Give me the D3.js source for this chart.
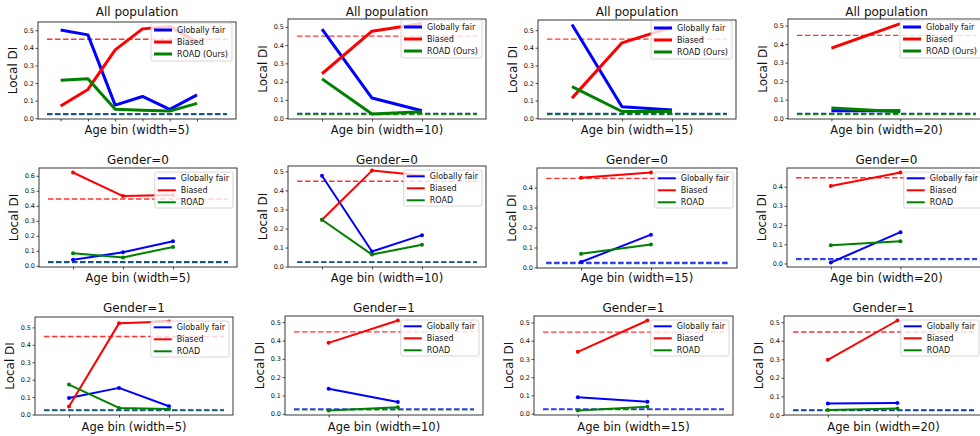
<!DOCTYPE html>
<html><head><meta charset="utf-8">
<script src="https://cdn.jsdelivr.net/npm/d3@7"></script>
<style>
body{margin:0;background:#fff}
svg{display:block}
text{font-family:"DejaVu Sans",sans-serif;fill:#111}
</style>
</head><body>
<svg id="c" width="980" height="436"></svg>
<script>
// ---------------- data ----------------
const panelTitles = [
  "All population","All population","All population","All population",
  "Gender=0","Gender=0","Gender=0","Gender=0",
  "Gender=1","Gender=1","Gender=1","Gender=1"
];
const xAxisLabels = [
  "Age bin (width=5)","Age bin (width=10)","Age bin (width=15)","Age bin (width=20)",
  "Age bin (width=5)","Age bin (width=10)","Age bin (width=15)","Age bin (width=20)",
  "Age bin (width=5)","Age bin (width=10)","Age bin (width=15)","Age bin (width=20)"
];
const legendLabelsTop = ["Globally fair","Biased","ROAD (Ours)"];
const legendLabels = ["Globally fair","Biased","ROAD"];
const yAxisLabel = "Local DI";

const globallyFair = [
  [0.502,0.474,0.075,0.124,0.051,0.133],
  [0.487,0.110,0.040],
  [0.532,0.065,0.046],
  [0.040,0.040],
  [0.040,0.090,0.164],
  [0.477,0.079,0.165],
  [0.027,0.164],
  [0.005,0.163],
  [0.095,0.153,0.048],
  [0.137,0.064],
  [0.090,0.065],
  [0.062,0.064]
];
const biased = [
  [0.070,0.164,0.389,0.508,0.522,0.432],
  [0.243,0.476,0.518],
  [0.114,0.428,0.517],
  [0.378,0.511],
  [0.622,0.465,0.472],
  [0.246,0.504,0.478],
  [0.449,0.475],
  [0.404,0.474],
  [0.046,0.523,0.534],
  [0.387,0.509],
  [0.339,0.511],
  [0.297,0.509]
];
const road = [
  [0.216,0.224,0.051,0.045,0.041,0.085],
  [0.215,0.022,0.035],
  [0.179,0.038,0.038],
  [0.055,0.035],
  [0.083,0.056,0.126],
  [0.246,0.063,0.115],
  [0.068,0.115],
  [0.095,0.116],
  [0.172,0.038,0.032],
  [0.018,0.036],
  [0.017,0.037],
  [0.027,0.035]
];
// global reference levels (dashed)
const refBiased = [0.449,0.449,0.449,0.447,0.445,0.448,0.446,0.447,0.448,0.447,0.447,0.447];
const refFair   = [0.026,0.026,0.027,0.026,0.027,0.025,0.025,0.025,0.027,0.027,0.026,0.027];
const refRoad   = [0.021,0.020,0.021,0.020,0.022,0.022,0.020,0.021,0.023,0.022,0.022,0.024];

// ---------------- layout ----------------
const frames = [
  [38,22,236,119],[288,19,486,119],[538,20,736,119],[788,19,985,119],
  [39,168,237,267],[288,166,486,267],[537,168,737,268],[787,168,986,267],
  [35,317,233,415],[285,316,483,415],[534,316,733,415],[784,316,983,415]
];
const titleBaseline = [16,164,312];
const xlabelBaseline = [134,282,431];
const colors = {fair:"#0000ff", biased:"#ff0000", road:"#008000"};

const svg = d3.select("#c");

frames.forEach((f,i)=>{
  const row = Math.floor(i/4);
  const [x0,y0,x1,y1] = f;
  const n = globallyFair[i].length;
  const refX = [-0.5, n + 0.1];
  const xpad = (refX[1]-refX[0])*0.05;
  const x = d3.scaleLinear().domain([refX[0]-xpad, refX[1]+xpad]).range([x0,x1]);
  const all = [...globallyFair[i],...biased[i],...road[i],refBiased[i],refFair[i],refRoad[i]];
  const ymin = d3.min(all), ymax = d3.max(all);
  const ypad = (ymax-ymin)*0.05;
  const y = d3.scaleLinear().domain([ymin-ypad, ymax+ypad]).range([y1,y0]);

  const g = svg.append("g");
  const clipId = "clip"+i;
  g.append("clipPath").attr("id",clipId).append("rect")
    .attr("x",x0).attr("y",y0).attr("width",x1-x0).attr("height",y1-y0);
  const plot = g.append("g").attr("clip-path",`url(#${clipId})`);

  // y axis
  const yTicks = d3.range(0, ymax+ypad+1e-9, 0.1).map(v=>+v.toFixed(1)).filter(v=>v>=ymin-ypad-1e-9 && v<=ymax+ypad);
  const yAxis = d3.axisLeft(y).tickValues(yTicks).tickFormat(d3.format(".1f")).tickSize(2.5).tickPadding(1.5);
  const ya = g.append("g").attr("transform",`translate(${x0},0)`).call(yAxis);
  ya.select(".domain").remove();
  ya.selectAll("text").style("font-size","6.5px").style("font-family","DejaVu Sans").attr("fill","#222");
  ya.selectAll("line").attr("stroke","#222").attr("stroke-width",0.8);

  // x axis ticks at data positions (no labels)
  const xAxis = d3.axisBottom(x).tickValues(d3.range(n)).tickFormat("").tickSize(2.5);
  const xa = g.append("g").attr("transform",`translate(0,${y1})`).call(xAxis);
  xa.select(".domain").remove();
  xa.selectAll("line").attr("stroke","#222").attr("stroke-width",0.8);

  // dashed reference lines (green first, blue over it)
  const dash = [[refBiased[i],colors.biased,0.8],[refRoad[i],colors.road,0.85],[refFair[i],colors.fair,0.8]];
  dash.forEach(([v,c,o])=>{
    plot.append("line").attr("x1",x(refX[0])).attr("x2",x(refX[1]))
      .attr("y1",y(v)).attr("y2",y(v))
      .attr("stroke",c).attr("stroke-opacity",o).attr("stroke-width",1.4).attr("stroke-dasharray","5.5,2.5");
  });

  // series
  const lw = row===0 ? 3 : 2;
  const series = [[globallyFair[i],colors.fair],[biased[i],colors.biased],[road[i],colors.road]];
  const line = d3.line().x((d,k)=>x(k)).y(d=>y(d));
  series.forEach(([vals,c])=>{
    plot.append("path").datum(vals).attr("d",line)
      .attr("fill","none").attr("stroke",c).attr("stroke-width",lw).attr("stroke-linejoin","round");
    if(row>0){
      plot.selectAll(null).data(vals).enter().append("circle")
        .attr("cx",(d,k)=>x(k)).attr("cy",d=>y(d)).attr("r",2).attr("fill",c);
    }
  });

  // frame
  g.append("rect").attr("x",x0).attr("y",y0).attr("width",x1-x0).attr("height",y1-y0)
    .attr("fill","none").attr("stroke","#222").attr("stroke-width",0.9);

  // title
  g.append("text").attr("x",(x0+x1)/2).attr("y",titleBaseline[row]).attr("text-anchor","middle")
    .style("font-size","12px").text(panelTitles[i]);
  // x label
  g.append("text").attr("x",(x0+x1)/2).attr("y",xlabelBaseline[row]).attr("text-anchor","middle")
    .style("font-size","11.5px").text(xAxisLabels[i]);
  // y label
  g.append("text").attr("transform",`translate(${x0-21},${(y0+y1)/2}) rotate(-90)`).attr("text-anchor","middle")
    .style("font-size","12px").text(yAxisLabel);

  // legend
  const labels = row===0 ? legendLabelsTop : legendLabels;
  const lg = g.append("g");
  const box = lg.append("rect");
  const texts = labels.map((t,k)=>lg.append("text").style("font-size","8px").text(t));
  const tw = d3.max(texts, t=>t.node().getComputedTextLength());
  const padL = 3, handle = 18, gap = 5, padR = 4, rowH = 12, padT = row===0?7:6.3, padB = row===0?7:5.7;
  const bw = padL+handle+gap+tw+padR, bh = padT+rowH*2+padB;
  const bx = x1-4-bw, by = y0+ (row===0?1:4);
  box.attr("x",bx).attr("y",by).attr("width",bw).attr("height",bh).attr("rx",2)
    .attr("fill","#fff").attr("fill-opacity",0.8).attr("stroke","#cccccc").attr("stroke-width",0.8);
  [colors.fair,colors.biased,colors.road].forEach((c,k)=>{
    const cy = by+padT+k*rowH;
    lg.append("line").attr("x1",bx+padL).attr("x2",bx+padL+handle).attr("y1",cy).attr("y2",cy)
      .attr("stroke",c).attr("stroke-width",lw);
    texts[k].attr("x",bx+padL+handle+gap).attr("y",cy+2.9);
  });
});
</script>
</body></html>
